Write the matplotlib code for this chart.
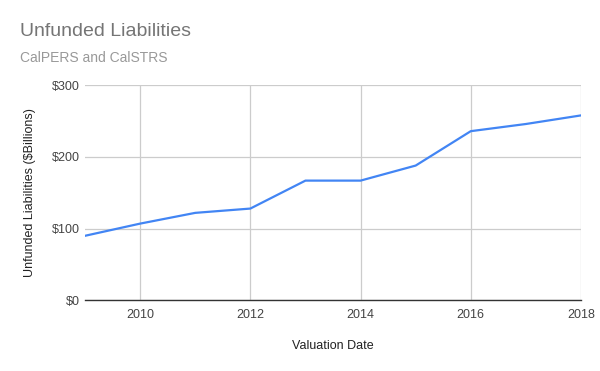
import matplotlib
matplotlib.use('Agg')
import matplotlib.pyplot as plt

# Unfunded liabilities, $ billions
years = [2009, 2010, 2011, 2012, 2013, 2014, 2015, 2016, 2017, 2018]
liabilities = [90, 107, 122, 128, 167, 167, 188, 236, 246, 258]
x_ticks = [2010, 2012, 2014, 2016, 2018]
y_ticks = [0, 100, 200, 300]
y_tick_labels = ['\\$0', '\\$100', '\\$200', '\\$300']

plt.rcParams['font.family'] = ['Liberation Sans', 'DejaVu Sans']

fig = plt.figure(figsize=(6, 3.71), dpi=100)
ax = fig.add_axes([85/600, 1-300.3/371, 496/600, 215/371])

ax.plot(years, liabilities, color='#4285f4', lw=1.6, solid_joinstyle='round', zorder=3)

ax.set_xlim(2009, 2018)
ax.set_ylim(0, 300)
ax.set_xticks(x_ticks)
ax.set_yticks(y_ticks)
ax.set_yticklabels(y_tick_labels)
ax.grid(True, color='#cccccc', lw=0.9)
ax.tick_params(length=0, labelsize=9, colors='#444444', pad=4)
ax.tick_params(axis='x', pad=6)
for s in ['top', 'right', 'left']:
    ax.spines[s].set_visible(False)
ax.spines['bottom'].set_color('#333333')
ax.spines['bottom'].set_linewidth(1.0)
ax.spines['bottom'].set_zorder(4)

ax.set_xlabel('Valuation Date', fontsize=9, color='#222222', labelpad=14)
ax.set_ylabel('Unfunded Liabilities (\\$Billions)', fontsize=9, color='#222222', labelpad=11)

fig.text(20/600, 1-31/371, 'Unfunded Liabilities', fontsize=14, color='#757575', va='center')
fig.text(20/600, 1-58/371, 'CalPERS and CalSTRS', fontsize=10, color='#999999', va='center')

fig.savefig('out.png', dpi=100)
